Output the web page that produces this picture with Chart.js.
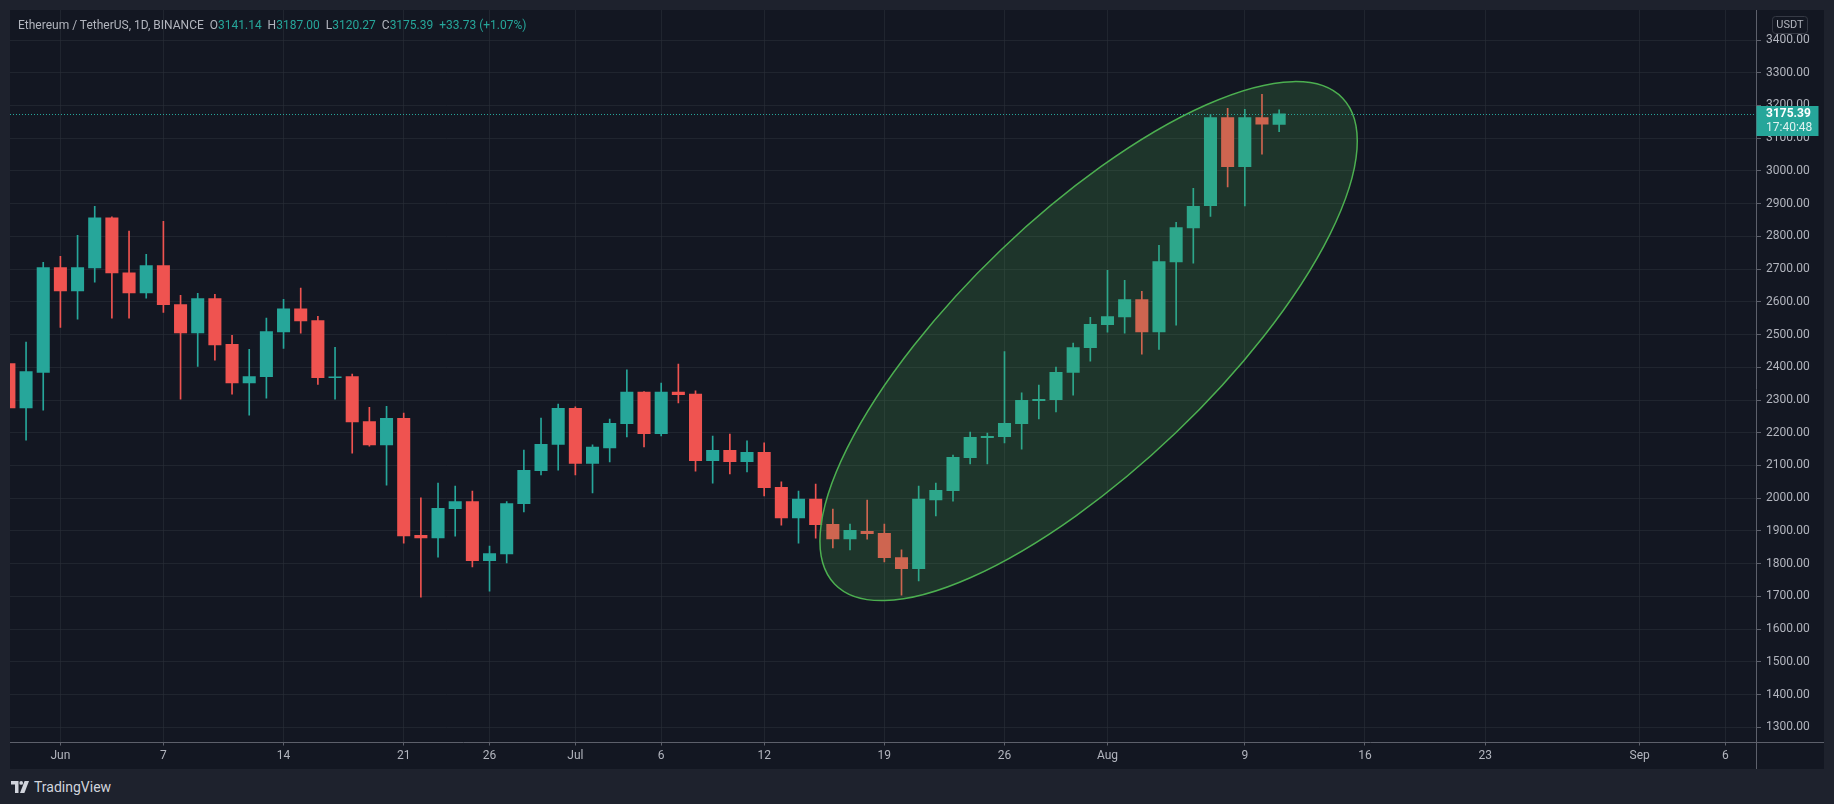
<!DOCTYPE html>
<html>
<head>
<meta charset="utf-8">
<title>Ethereum / TetherUS, 1D, BINANCE</title>
<script src="https://cdn.jsdelivr.net/npm/chart.js@4.4.0/dist/chart.umd.min.js"></script>
<style>
  html, body { margin: 0; padding: 0; background: #1e222d; }
  body { width: 1834px; height: 804px; position: relative; overflow: hidden; font-family: Roboto, "Liberation Sans", sans-serif; }
  #panel { position: absolute; left: 10px; top: 10px; width: 1814px; height: 759px; background: #131722; }
  #legend { position: absolute; left: 18px; top: 17px; font-size: 12px; line-height: 16px; color: #b2b5be; white-space: pre; }
  #legend .v { color: #26a69a; }
  #footer { position: absolute; left: 11px; top: 779px; height: 16px; display: flex; align-items: center; gap: 5px; color: #d1d4dc; font-size: 14px; }
</style>
</head>
<body>
<div id="panel"><canvas id="chart" width="1814" height="759"></canvas></div>
<div id="legend"></div>
<div id="footer">
  <svg width="18" height="12" viewBox="0 0 18 12"><path d="M0 0h7.5v12H4V3.6H0z" fill="#d1d4dc"/><circle cx="10.2" cy="1.9" r="1.9" fill="#d1d4dc"/><path d="M13.6 0H18l-4.6 12H9z" fill="#d1d4dc"/></svg>
  <span>TradingView</span>
</div>
<script>
// daily candles, ETH/USDT (Binance)
const dates = [
  '2021-05-29', '2021-05-30', '2021-05-31',
  '2021-06-01', '2021-06-02', '2021-06-03', '2021-06-04', '2021-06-05', '2021-06-06', '2021-06-07',
  '2021-06-08', '2021-06-09', '2021-06-10', '2021-06-11', '2021-06-12', '2021-06-13', '2021-06-14',
  '2021-06-15', '2021-06-16', '2021-06-17', '2021-06-18', '2021-06-19', '2021-06-20', '2021-06-21',
  '2021-06-22', '2021-06-23', '2021-06-24', '2021-06-25', '2021-06-26', '2021-06-27', '2021-06-28',
  '2021-06-29', '2021-06-30', '2021-07-01', '2021-07-02', '2021-07-03', '2021-07-04', '2021-07-05',
  '2021-07-06', '2021-07-07', '2021-07-08', '2021-07-09', '2021-07-10', '2021-07-11', '2021-07-12',
  '2021-07-13', '2021-07-14', '2021-07-15', '2021-07-16', '2021-07-17', '2021-07-18', '2021-07-19',
  '2021-07-20', '2021-07-21', '2021-07-22', '2021-07-23', '2021-07-24', '2021-07-25', '2021-07-26',
  '2021-07-27', '2021-07-28', '2021-07-29', '2021-07-30', '2021-07-31', '2021-08-01', '2021-08-02',
  '2021-08-03', '2021-08-04', '2021-08-05', '2021-08-06', '2021-08-07', '2021-08-08', '2021-08-09',
  '2021-08-10', '2021-08-11'
];
const opens = [
  2412, 2275, 2383,
  2706, 2632, 2703, 2858, 2690, 2626, 2712,
  2593, 2504, 2611, 2471, 2351, 2370, 2507,
  2580, 2544, 2367, 2373, 2235, 2162, 2245,
  1888, 1878, 1967, 1991, 1808, 1829, 1982,
  2083, 2163, 2276, 2105, 2153, 2227, 2325,
  2196, 2325, 2319, 2114, 2147, 2111, 2141,
  2034, 1939, 1998, 1921, 1875, 1900, 1894,
  1820, 1784, 1994, 2022, 2123, 2184, 2187,
  2227, 2297, 2300, 2383, 2459, 2529, 2553,
  2608, 2507, 2721, 2825, 2893, 3164, 3012,
  3164, 3141.14
];
const highs = [
  2440, 2477, 2721,
  2739, 2803, 2892, 2860, 2816, 2745, 2846,
  2620, 2626, 2623, 2498, 2455, 2550, 2608,
  2642, 2556, 2461, 2379, 2278, 2281, 2260,
  2001, 2046, 2037, 2022, 1854, 1990, 2147,
  2245, 2288, 2279, 2163, 2242, 2392, 2326,
  2352, 2410, 2328, 2190, 2196, 2175, 2169,
  2050, 2022, 2043, 1967, 1921, 1994, 1921,
  1842, 2037, 2046, 2132, 2202, 2199, 2448,
  2322, 2346, 2401, 2474, 2553, 2696, 2666,
  2632, 2773, 2843, 2947, 3173, 3191, 3188,
  3234, 3187.00
];
const lows = [
  2250, 2177, 2269,
  2522, 2547, 2660, 2550, 2550, 2611, 2568,
  2303, 2403, 2422, 2318, 2254, 2306, 2458,
  2504, 2348, 2303, 2138, 2159, 2040, 1863,
  1698, 1820, 1884, 1790, 1716, 1802, 1958,
  2071, 2086, 2071, 2016, 2111, 2187, 2157,
  2190, 2291, 2083, 2046, 2074, 2080, 2007,
  1918, 1863, 1878, 1848, 1842, 1875, 1805,
  1704, 1747, 1946, 1991, 2105, 2105, 2169,
  2150, 2242, 2264, 2315, 2419, 2507, 2504,
  2440, 2455, 2529, 2718, 2861, 2951, 2893,
  3051, 3120.27
];
const closes = [
  2275, 2388, 2706,
  2632, 2706, 2858, 2687, 2626, 2712, 2590,
  2504, 2611, 2467, 2351, 2373, 2510, 2580,
  2541, 2367, 2372, 2232, 2162, 2245, 1884,
  1878, 1970, 1991, 1808, 1832, 1985, 2086,
  2166, 2276, 2105, 2157, 2230, 2325, 2196,
  2325, 2315, 2114, 2147, 2111, 2141, 2031,
  1939, 1998, 1918, 1875, 1903, 1891, 1817,
  1784, 1998, 2025, 2126, 2187, 2190, 2230,
  2300, 2303, 2386, 2461, 2532, 2556, 2608,
  2507, 2724, 2828, 2893, 3164, 3012, 3164,
  3141.66, 3175.39
];

const tickDates = ['2021-06-01', '2021-06-07', '2021-06-14', '2021-06-21', '2021-06-26', '2021-07-01', '2021-07-06', '2021-07-12',
  '2021-07-19', '2021-07-26', '2021-08-01', '2021-08-09', '2021-08-16', '2021-08-23', '2021-09-01', '2021-09-06'];
const tickLabels = ['Jun', '7', '14', '21', '26', 'Jul', '6', '12', '19', '26', 'Aug', '9', '16', '23', 'Sep', '6'];
const priceTicks = [1300, 1400, 1500, 1600, 1700, 1800, 1900, 2000, 2100, 2200, 2300,
  2400, 2500, 2600, 2700, 2800, 2900, 3000, 3100, 3200, 3300, 3400];

// highlighted area: x in days from Jun 1, y in price
const ellipse = { center: [59.9, 2480], major: [74.7, 3222], minor: [54.8, 2759] };
const countdown = '17:40:48';

const UP = '#26a69a', DOWN = '#ef5350', TEXT = '#b2b5be', AXIS = '#5d606b';
const GRID = 'rgba(42,46,57,0.6)';
const FONT = 'Roboto, "Liberation Sans", sans-serif';

const base = Date.UTC(2021, 5, 1);
const dayOf = s => (Date.parse(s) - base) / 86400000;
const colors = opens.map((o, i) => closes[i] >= o ? UP : DOWN);
const last = closes.length - 1;

// legend line
const chg = closes[last] - closes[last - 1];
const pct = chg / closes[last - 1] * 100;
document.getElementById('legend').innerHTML =
  'Ethereum / TetherUS, 1D, BINANCE  O<span class="v">' + opens[last].toFixed(2) +
  '</span>  H<span class="v">' + highs[last].toFixed(2) +
  '</span>  L<span class="v">' + lows[last].toFixed(2) +
  '</span>  C<span class="v">' + closes[last].toFixed(2) +
  '</span>  <span class="v">' + (chg >= 0 ? '+' : '') + chg.toFixed(2) + ' (' + (pct >= 0 ? '+' : '') + pct.toFixed(2) + '%)</span>';

const overlays = {
  id: 'overlays',
  afterDatasetsDraw(chart) {
    const { ctx, chartArea: a, scales: { x, y } } = chart;
    const px = p => [x.getPixelForValue(p[0]), y.getPixelForValue(p[1])];
    const c = px(ellipse.center), m = px(ellipse.major), n = px(ellipse.minor);
    ctx.save();
    ctx.beginPath();
    ctx.rect(a.left, a.top, a.right - a.left, a.bottom - a.top);
    ctx.clip();
    ctx.beginPath();
    ctx.ellipse(c[0], c[1], Math.hypot(m[0] - c[0], m[1] - c[1]), Math.hypot(n[0] - c[0], n[1] - c[1]),
      Math.atan2(m[1] - c[1], m[0] - c[0]), 0, Math.PI * 2);
    ctx.fillStyle = 'rgba(76,175,80,0.2)';
    ctx.fill();
    ctx.lineWidth = 1.5;
    ctx.strokeStyle = '#4caf50';
    ctx.stroke();

    // last price line
    const py = Math.round(y.getPixelForValue(closes[last])) + 0.5;
    ctx.setLineDash([1, 2]);
    ctx.lineWidth = 1;
    ctx.strokeStyle = UP;
    ctx.beginPath();
    ctx.moveTo(a.left, py);
    ctx.lineTo(a.right, py);
    ctx.stroke();
    ctx.restore();
  },
  afterDraw(chart) {
    const { ctx, chartArea: a, width, height, scales: { y } } = chart;
    ctx.save();
    const bx = Math.round(a.bottom) + 0.5, rx = Math.round(a.right) + 0.5;
    ctx.strokeStyle = AXIS;
    ctx.lineWidth = 1;
    ctx.beginPath();
    ctx.moveTo(0, bx); ctx.lineTo(width, bx);
    ctx.moveTo(rx, 0); ctx.lineTo(rx, height);
    ctx.stroke();

    // price tag
    const py = y.getPixelForValue(closes[last]);
    ctx.fillStyle = UP;
    ctx.fillRect(rx, Math.round(py - 8), 62, 30);
    ctx.textBaseline = 'middle';
    ctx.textAlign = 'left';
    ctx.fillStyle = '#ffffff';
    ctx.font = 'bold 12px ' + FONT;
    ctx.fillText(closes[last].toFixed(2), rx + 9.5, py);
    ctx.font = '12px ' + FONT;
    ctx.fillStyle = 'rgba(255,255,255,0.85)';
    ctx.fillText(countdown, rx + 9.5, py + 14);

    // currency badge
    ctx.strokeStyle = '#363a45';
    ctx.beginPath();
    ctx.roundRect(rx + 16, 6.5, 35, 17, 3);
    ctx.stroke();
    ctx.fillStyle = TEXT;
    ctx.font = '11px ' + FONT;
    ctx.textAlign = 'center';
    ctx.fillText('USDT', rx + 33.5, 15.5);
    ctx.restore();
  }
};

new Chart(document.getElementById('chart'), {
  type: 'bar',
  data: {
    datasets: [
      {
        label: 'body',
        data: dates.map((d, i) => ({ x: dayOf(d), y: [opens[i], closes[i]] })),
        backgroundColor: colors,
        grouped: false,
        categoryPercentage: 1,
        barPercentage: 0.76,
        minBarLength: 1
      },
      {
        label: 'wick',
        data: dates.map((d, i) => ({ x: dayOf(d), y: [lows[i], highs[i]] })),
        backgroundColor: colors,
        grouped: false,
        barThickness: 1
      }
    ]
  },
  options: {
    responsive: false,
    animation: false,
    layout: { padding: 0, autoPadding: false },
    plugins: { legend: { display: false }, tooltip: { enabled: false } },
    scales: {
      x: {
        type: 'linear',
        offset: false,
        min: -2.936,
        max: 98.78,
        afterBuildTicks: s => { s.ticks = tickDates.map(d => ({ value: dayOf(d) })); },
        afterFit: s => { s.height = 27.5; s.paddingLeft = 0; s.paddingRight = 0; },
        grid: { color: GRID, offset: false, tickColor: AXIS, tickLength: 4 },
        border: { display: false },
        ticks: {
          autoSkip: false, maxRotation: 0, padding: 3,
          color: TEXT, font: { family: FONT, size: 12 },
          callback: (v, i) => tickLabels[i]
        }
      },
      y: {
        position: 'right',
        min: 1256.7,
        max: 3491.66,
        afterBuildTicks: s => { s.ticks = priceTicks.map(v => ({ value: v })); },
        afterFit: s => { s.width = 68; s.paddingTop = 0; s.paddingBottom = 0; },
        grid: { color: GRID, tickColor: AXIS, tickLength: 5 },
        border: { display: false },
        ticks: {
          padding: 5, color: TEXT, font: { family: FONT, size: 12 },
          callback: v => v.toFixed(2)
        }
      }
    }
  },
  plugins: [overlays]
});
</script>
</body>
</html>
